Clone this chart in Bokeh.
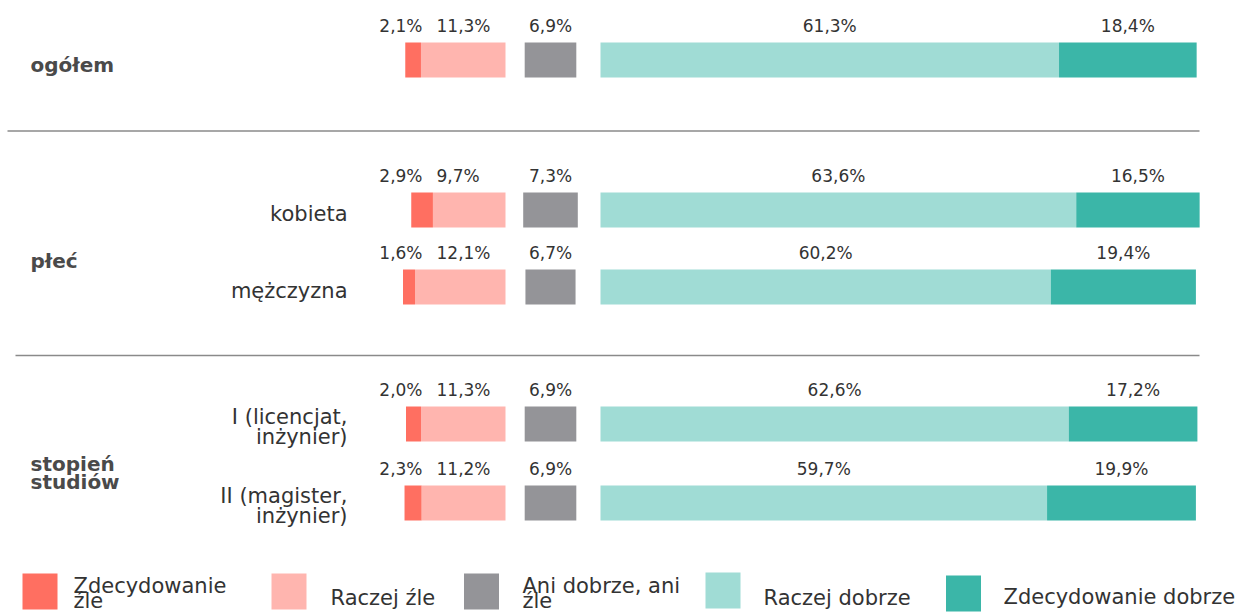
from bokeh.plotting import figure
from bokeh.models import Range1d, ColumnDataSource
from bokeh.core.properties import value
from bokeh.embed import file_html
from bokeh.resources import INLINE

# ---------------- data ----------------
row_labels = ["", "kobieta", "mężczyzna", "I (licencjat,\ninżynier)", "II (magister,\ninżynier)"]
group_labels = ["ogółem", "płeć", "stopień\nstudiów"]
zdec_zle = [2.1, 2.9, 1.6, 2.0, 2.3]
raczej_zle = [11.3, 9.7, 12.1, 11.3, 11.2]
ani = [6.9, 7.3, 6.7, 6.9, 6.9]
raczej_dobrze = [61.3, 63.6, 60.2, 62.6, 59.7]
zdec_dobrze = [18.4, 16.5, 19.4, 17.2, 19.9]
legend_labels = ["Zdecydowanie\nźle", "Raczej źle", "Ani dobrze, ani\nźle", "Raczej dobrze", "Zdecydowanie dobrze"]

# ---------------- layout / style ----------------
W, H = 1241, 614
PX_PER = 7.48          # pixels per percentage point
ORIGIN = 600           # canvas x of 0%
def px2x(page_x):
    return (page_x - ORIGIN) / PX_PER

NEG_END = px2x(505)
NEU_C = px2x(550)
row_y = [59.5, 209.5, 286.5, 423.5, 502.5]
row_lab_dy = [4, 4, 4, 3, 3]
group_y = [64, 260, 472.5]
BAR_H = 35
colors = ["#FF6F61", "#FFB5AF", "#949498", "#A0DCD5", "#3BB6A8"]
FONT = "DejaVu Sans"
TXT = "#333333"

def fmt(v):
    return f"{v:.1f}".replace(".", ",") + "%"

p = figure(width=W, height=H, output_backend="svg", toolbar_location=None,
           x_range=Range1d(-ORIGIN / PX_PER, (W - ORIGIN) / PX_PER),
           y_range=Range1d(H, 0), min_border=0)
p.axis.visible = False
p.grid.visible = False
p.outline_line_color = None
p.background_fill_color = "white"
p.border_fill_color = "white"

# bars
rz_left = [NEG_END - r for r in raczej_zle]
zz_left = [NEG_END - r - z for r, z in zip(raczej_zle, zdec_zle)]
p.hbar(y=row_y, left=zz_left, right=rz_left, height=BAR_H, color=colors[0], line_color=None)
p.hbar(y=row_y, left=rz_left, right=[NEG_END] * 5, height=BAR_H, color=colors[1], line_color=None)
p.hbar(y=row_y, left=[NEU_C - a / 2 for a in ani], right=[NEU_C + a / 2 for a in ani],
       height=BAR_H, color=colors[2], line_color=None)
p.hbar(y=row_y, left=[0] * 5, right=raczej_dobrze, height=BAR_H, color=colors[3], line_color=None)
p.hbar(y=row_y, left=raczej_dobrze, right=[a + b for a, b in zip(raczej_dobrze, zdec_dobrze)],
       height=BAR_H, color=colors[4], line_color=None)

# value labels
ly = [y - BAR_H / 2 - 17 for y in row_y]
lab_x, lab_y, lab_t, lab_a = [], [], [], []
for i in range(5):
    lab_x += [px2x(422), px2x(436), NEU_C, raczej_dobrze[i] / 2, raczej_dobrze[i] + zdec_dobrze[i] / 2]
    lab_y += [ly[i]] * 5
    lab_t += [fmt(zdec_zle[i]), fmt(raczej_zle[i]), fmt(ani[i]), fmt(raczej_dobrze[i]), fmt(zdec_dobrze[i])]
    lab_a += ["right", "left", "center", "center", "center"]
src = ColumnDataSource(dict(x=lab_x, y=lab_y, t=lab_t, a=lab_a))
p.text(x="x", y="y", text="t", text_align="a", source=src, text_baseline="middle",
       text_font=value(FONT), text_font_size="17px", text_color=TXT)

# row labels
p.text(x=[px2x(347)] * 5, y=[y + d for y, d in zip(row_y, row_lab_dy)], text=row_labels,
       text_align="right", text_baseline="middle", text_font=value(FONT), text_font_size="21px",
       text_color=TXT, text_line_height=0.82)

# group labels
p.text(x=[px2x(30)] * 3, y=group_y, text=group_labels, text_align="left",
       text_baseline="middle", text_font=value(FONT), text_font_size="20px",
       text_font_style="bold", text_color="#4a4a4a", text_line_height=0.75)

# separators
p.segment(x0=[px2x(7), px2x(15)], x1=[px2x(1199), px2x(1199)], y0=[130.5, 355],
          y1=[130.5, 355], line_color="#8a8a8a", line_width=1.5)

# legend
sq_x = [39.5, 288.5, 481, 722.5, 963]
sq_y = [591, 591, 591, 590, 593]
tx_x = [73, 330, 522, 763, 1003]
tx_y = [593, 597, 593, 597, 596]
p.rect(x=[px2x(v) for v in sq_x], y=sq_y, width=35 / PX_PER, height=36,
       color=colors, line_color=None)
p.text(x=[px2x(v) for v in tx_x], y=tx_y, text=legend_labels,
       text_align="left", text_baseline="middle", text_font=value(FONT), text_font_size="21px",
       text_color=TXT, text_line_height=0.6)

open("out.html", "w").write(file_html(p, INLINE))
